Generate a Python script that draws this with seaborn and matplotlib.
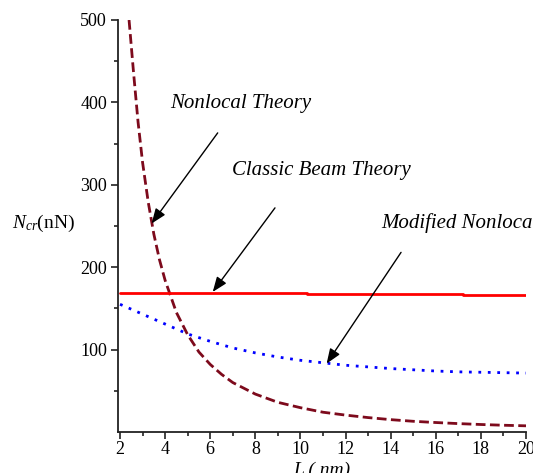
import matplotlib
matplotlib.use("Agg")
import matplotlib.pyplot as plt
import seaborn as sns
import pandas as pd

# Critical buckling load N_cr (nN) versus beam length L (nm)
L_nonlocal = [2.4, 2.6, 2.8, 3.0, 3.25, 3.5, 3.75, 4.0, 4.5, 5.0, 5.5, 6.0, 6.5, 7.0,
              8.0, 9.0, 10.0, 11.0, 12.0, 13.0, 14.0, 15.0, 16.0, 17.0, 18.0, 19.0, 20.0]
N_nonlocal = [500, 436, 376, 327, 279, 240, 209, 184, 145, 118, 97, 82, 70, 60,
              46, 36, 29.5, 24, 20.5, 17.5, 15, 13, 11.5, 10.2, 9.1, 8.2, 7.5]

L_classic = [2.0, 10.3, 17.2, 20.0]
N_classic = [168.5, 167.5, 166.5, 166.5]

L_modified = [2, 3, 4, 5, 6, 7, 8, 9, 10, 11, 12, 13, 14, 15, 16, 17, 18, 19, 20]
N_modified = [155, 143, 131, 119, 110, 102, 96, 91, 87, 84, 81, 79, 77, 75.5, 74,
              73, 72.5, 72, 71.5]

x_ticks = [2, 4, 6, 8, 10, 12, 14, 16, 18, 20]
y_ticks = [100, 200, 300, 400, 500]

labels = ["Nonlocal Theory", "Classic Beam Theory", "Modified Nonlocal Theory"]

sns.set_style("ticks")
plt.rcParams["font.family"] = ["Liberation Serif", "DejaVu Serif"]
plt.rcParams["text.color"] = "black"
plt.rcParams["mathtext.fontset"] = "custom"
plt.rcParams["mathtext.rm"] = "Liberation Serif"
plt.rcParams["mathtext.it"] = "Liberation Serif:italic"

W, H = 533, 473
fig = plt.figure(figsize=(W / 100, H / 100), dpi=100)
ax = fig.add_axes([118 / W, (H - 432) / H, (526 - 118) / W, (432 - 20) / H])

df_nl = pd.DataFrame({"L": L_nonlocal, "N": N_nonlocal})
df_cl = pd.DataFrame({"L": L_classic, "N": N_classic})
df_md = pd.DataFrame({"L": L_modified, "N": N_modified})

sns.lineplot(data=df_nl, x="L", y="N", ax=ax, color="#7d0a1c", lw=2.0,
             linestyle=(0, (3.5, 1.6)))
sns.lineplot(data=df_cl, x="L", y="N", ax=ax, color="#ff0000", lw=2.0,
             drawstyle="steps-post")
sns.lineplot(data=df_md, x="L", y="N", ax=ax, color="#0000ff", lw=2.0,
             linestyle=(0, (1, 2.4)))

ax.set_xlim(1.91, 20)
ax.set_ylim(0, 500)
ax.set_xticks(x_ticks)
ax.set_yticks(y_ticks)
ax.set_xticks([3, 5, 7, 9, 11, 13, 15, 17, 19], minor=True)
ax.set_yticks([50, 150, 250, 350, 450], minor=True)
ax.tick_params(axis="both", which="major", length=5, width=1.2, labelsize=13,
               color="#222222", labelcolor="black", pad=3)
ax.tick_params(axis="both", which="minor", length=3, width=1.2, color="#222222")
ax.tick_params(axis="x", pad=1.5)
ax.set_xlabel("")
ax.set_ylabel("")
for s in ["top", "right"]:
    ax.spines[s].set_visible(False)
for s in ["left", "bottom"]:
    ax.spines[s].set_linewidth(1.3)
    ax.spines[s].set_color("#222222")

fig.text(12 / W, 1 - 223 / H, r"$N_{cr}$(nN)", fontsize=14, va="center", ha="left")
fig.text(322 / W, 1 - 470 / H, "L ( nm)", fontsize=14, style="italic",
         va="center", ha="center")

# Labels with arrows pointing at each curve
text_pos = [(4.22, 399), (6.96, 317), (13.6, 254)]
arrow_tail = [(6.33, 363), (8.87, 272), (14.46, 218)]
arrow_tip = [(3.40, 253), (6.11, 170), (11.16, 83)]
for lab, tp, tail, tip in zip(labels, text_pos, arrow_tail, arrow_tip):
    ax.text(tp[0], tp[1], lab, fontsize=15, style="italic", ha="left", va="center",
            clip_on=False)
    ax.annotate("", xy=tip, xytext=tail,
                arrowprops=dict(arrowstyle="-|>,head_length=0.9,head_width=0.35",
                                color="black", lw=1.0, shrinkA=0, shrinkB=0))

fig.savefig("out.png", dpi=100)
